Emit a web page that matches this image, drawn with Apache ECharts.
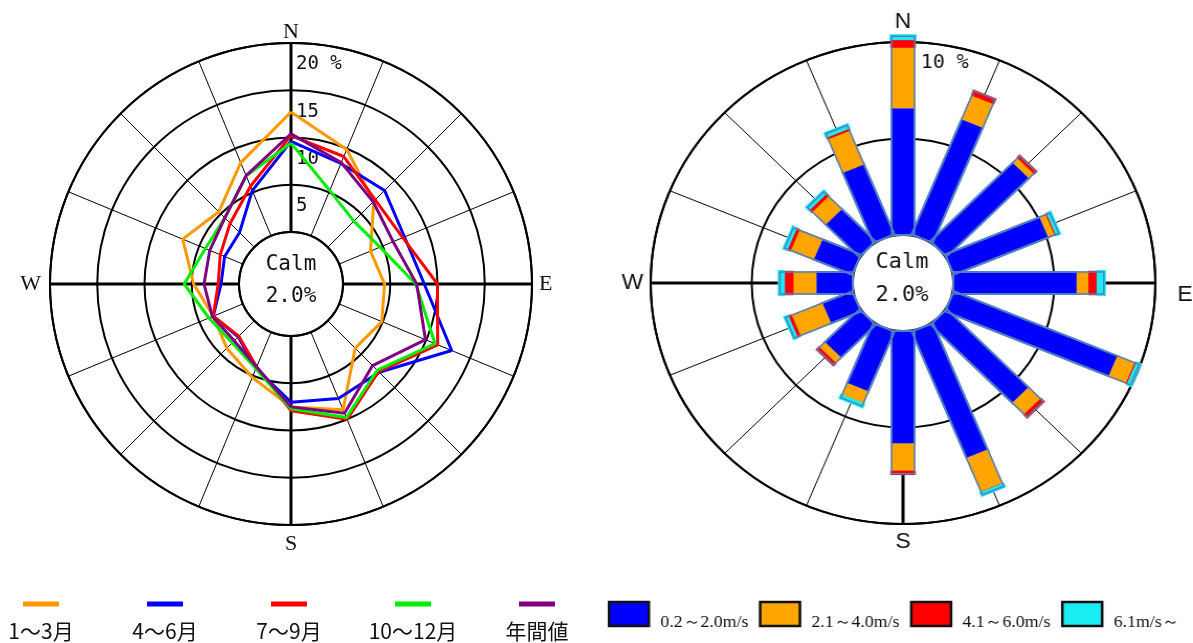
<!DOCTYPE html>
<html>
<head>
<meta charset="utf-8">
<script src="https://cdn.jsdelivr.net/npm/echarts@6/dist/echarts.min.js"></script>
<style>
  html, body { margin: 0; padding: 0; background: #fff; }
  #rose { position: absolute; left: 0; top: 0; width: 600px; height: 643px; }
  #speed { position: absolute; left: 600px; top: 0; width: 593px; height: 643px;
           transform: scaleX(1.047); transform-origin: 303px 283px; }
</style>
</head>
<body>
<div id="rose"></div>
<div id="speed"></div>
<script>
// 16 compass directions, clockwise from north
const directions = ['N', 'NNE', 'NE', 'ENE', 'E', 'ESE', 'SE', 'SSE', 'S', 'SSW', 'SW', 'WSW', 'W', 'WNW', 'NW', 'NNW'];
const compass = ['N', 'E', 'S', 'W'];

// Seasonal direction frequency (%)
const seasonNames = ['1～3月', '4～6月', '7～9月', '10～12月', '年間値'];
const janMar = [12.7, 9.9, 6.9, 3.6, 4.4, 4.9, 4.1, 8.9, 7.5, 5.2, 4.1, 3.4, 4.8, 6.9, 5.3, 8.4];
const aprJun = [9.6, 8.3, 8.5, 7.5, 8.6, 12.9, 7.7, 7.6, 7.0, 4.2, 2.4, 3.4, 1.9, 2.1, 2.2, 5.2];
const julSep = [10.2, 9.1, 7.1, 7.3, 10.0, 11.3, 7.6, 10.0, 7.9, 4.0, 2.3, 3.4, 2.2, 2.6, 3.6, 5.7];
const octDec = [9.4, 5.2, 3.9, 4.7, 7.7, 11.0, 7.4, 9.8, 7.7, 4.2, 3.3, 3.9, 5.8, 4.3, 4.4, 6.9];
const annual = [10.4, 8.4, 6.8, 6.2, 7.8, 9.9, 6.7, 9.3, 7.5, 4.0, 3.0, 3.5, 3.7, 3.8, 4.4, 6.9];
const roseTicks = ['', '5', '10', '15', '20 %'];

// Annual frequency (%) split by wind speed class
const speedNames = ['0.2～2.0m/s', '2.1～4.0m/s', '4.1～6.0m/s', '6.1m/s～'];
const speedLow = [6.6, 6.5, 5.8, 5.1, 6.15, 8.8, 5.77, 7.13, 5.87, 3.4, 2.45, 1.64, 1.84, 2.1, 2.4, 3.97];
const speedMid = [3.17, 1.35, 0.35, 0.35, 0.6, 0.95, 0.85, 1.9, 1.43, 0.7, 0.4, 1.66, 1.16, 1.25, 0.95, 1.9];
const speedHigh = [0.43, 0.2, 0.1, 0.1, 0.45, 0.1, 0.15, 0.05, 0.1, 0, 0.1, 0.2, 0.46, 0.2, 0.2, 0.15];
const speedTop = [0.1, 0, 0, 0.07, 0.25, 0.08, 0, 0.07, 0, 0.08, 0, 0.07, 0.15, 0.07, 0.08, 0.1];

const calmText = 'Calm\n2.0%';

const MONO = "'DejaVu Sans Mono','Liberation Mono',monospace";
const SERIF = "'Liberation Serif','DejaVu Serif',serif";
const SANS = "'Liberation Sans',Arial,sans-serif";
const JP = "'Noto Sans CJK JP',sans-serif";

const step = 360 / directions.length;

// ---------- seasonal rose (line polygons) ----------
const lineColors = ['#ff9900', '#0000ff', '#ff0000', '#00ee00', '#800080'];
const seasonal = [janMar, aprJun, julSep, octDec, annual];

function closedLoop(values) {
  const pts = values.map((v, i) => [v, i * step]);
  pts.push([values[0], 360]);
  return pts;
}

const legendRich = { t: { fontFamily: JP, fontSize: 21, color: '#111', width: 96, align: 'center', lineHeight: 26 } };
lineColors.forEach((c, i) => {
  legendRich['l' + i] = { width: 36, height: 5, backgroundColor: c, align: 'center', lineHeight: 28 };
});

// polar frame: rings, 16 thin spokes, 4 bold compass spokes with letters
function polarFrame(cfg) {
  const rich = {};
  compass.forEach((c, i) => {
    rich['c' + i] = { fontFamily: cfg.compassFont, fontSize: 22, color: '#111', padding: cfg.compassPad[i] };
  });
  return {
    polar: [{ center: cfg.center, radius: cfg.radius }, { center: cfg.center, radius: cfg.radius }],
    angleAxis: [
      {
        polarIndex: 0, type: 'value', min: 0, max: 360, interval: step, startAngle: 90, clockwise: true,
        axisLine: { lineStyle: { color: '#000', width: 2 } },
        axisTick: { show: false }, axisLabel: { show: false },
        splitLine: { lineStyle: { color: '#000', width: 1 } }
      },
      {
        polarIndex: 1, type: 'value', min: 0, max: 360, interval: 90, startAngle: 90, clockwise: true,
        axisLine: { show: false }, axisTick: { show: false },
        axisLabel: {
          margin: cfg.compassMargin, rich: rich,
          formatter: v => (v / 90 < 4 ? '{c' + (v / 90) + '|' + compass[v / 90] + '}' : '')
        },
        splitLine: { lineStyle: { color: '#000', width: 3 } }
      }
    ],
    radiusAxis: [
      {
        polarIndex: 0, type: 'value', min: 0, max: cfg.max, interval: cfg.interval,
        axisLine: { show: false }, axisTick: { show: false },
        axisLabel: {
          inside: true, margin: 6, align: 'left', verticalAlign: 'top', padding: cfg.tickPad,
          fontFamily: MONO, fontSize: 19, color: '#111',
          formatter: cfg.tickFormatter
        },
        splitLine: { lineStyle: { color: cfg.ringColors, width: 2 } }
      },
      { polarIndex: 1, type: 'value', min: 0, max: cfg.max, show: false }
    ]
  };
}

const roseFrame = polarFrame({
  center: [291, 284], radius: [52, 241], max: 20, interval: 5,
  tickFormatter: v => roseTicks[Math.round(v / 5)] || '', tickPad: [12, 0, 0, 11],
  compassFont: SERIF, compassMargin: 0,
  compassPad: [[0, 0, 0, 0], [0, 0, 0, 7], [8, 0, 0, 0], [0, 9, 0, 0]],
  ringColors: ['#000']
});

const roseChart = echarts.init(document.getElementById('rose'), null, { renderer: 'canvas' });
roseChart.setOption(Object.assign(roseFrame, {
  animation: false,
  graphic: [{
    type: 'text', x: 291, y: 281, z: 10,
    style: { text: calmText, align: 'center', verticalAlign: 'middle', fontFamily: MONO, fontSize: 21, lineHeight: 32, fill: '#111' }
  }],
  legend: {
    data: seasonNames, left: -12, top: 598, padding: 0, itemGap: 23,
    itemWidth: 0, itemHeight: 0, icon: 'rect', itemStyle: { opacity: 0 },
    formatter: name => '{l' + seasonNames.indexOf(name) + '|}\n{t|' + name + '}',
    textStyle: { rich: legendRich }
  },
  series: seasonal.map((vals, i) => ({
    name: seasonNames[i], type: 'line', coordinateSystem: 'polar', polarIndex: 0,
    data: closedLoop(vals), symbol: 'none', z: 3,
    lineStyle: { color: lineColors[i], width: 3 }, itemStyle: { color: lineColors[i] }
  }))
}));

// ---------- wind speed rose (radial bars) ----------
const speedColors = ['#0000ff', '#ffa500', '#ff0000', '#19ecf2'];
const OUTLINE = '#4f7fc4';
const HALF = 11;

function barPolygon(api, r0, r1, ang) {
  const a = api.coord([r0, ang]);
  const b = api.coord([r1, ang]);
  const dx = b[0] - a[0], dy = b[1] - a[1];
  const len = Math.hypot(dx, dy) || 1;
  const nx = -dy / len * HALF, ny = dx / len * HALF;
  return [[a[0] + nx, a[1] + ny], [b[0] + nx, b[1] + ny], [b[0] - nx, b[1] - ny], [a[0] - nx, a[1] - ny]];
}

function segmentRenderer(fill, stroke, lineWidth) {
  return function (params, api) {
    const ang = api.value(0), r0 = api.value(1), r1 = api.value(2);
    if (!(r1 > r0)) return null;
    return {
      type: 'polygon',
      shape: { points: barPolygon(api, r0, r1, ang) },
      style: { fill: fill, stroke: stroke, lineWidth: lineWidth, lineJoin: 'miter' }
    };
  };
}

// stacked segment bounds per direction
const classes = [speedLow, speedMid, speedHigh, speedTop];
const segments = classes.map((cls, k) => directions.map((d, i) => {
  let start = 0;
  for (let j = 0; j < k; j++) start += classes[j][i];
  return [i * step, start, start + cls[i]];
}));
const totals = directions.map((d, i) => [i * step, 0, classes.reduce((s, c) => s + c[i], 0)]);

const segStyle = [
  [speedColors[0], OUTLINE, 2],
  [speedColors[1], speedColors[1], 1.5],
  [speedColors[2], speedColors[2], 2.5],
  [speedColors[3], speedColors[3], 4]
];

const speedFrame = polarFrame({
  center: [303, 283], radius: [48, 241], max: 10, interval: 5,
  tickFormatter: v => (v === 10 ? '10 %' : ''), tickPad: [12, 0, 0, 23],
  compassFont: SANS, compassMargin: 7,
  compassPad: [[0, 0, 2, 0], [24, 0, 0, 14], [0, 0, 0, 0], [0, 0, 0, 0]],
  ringColors: ['rgba(0,0,0,0)', '#000', '#000']
});

const speedSeries = segments.map((data, k) => ({
  name: speedNames[k], type: 'custom', coordinateSystem: 'polar', polarIndex: 0,
  data: data, z: 3 + k, itemStyle: { color: speedColors[k] },
  encode: { angle: 0, radius: [1, 2] },
  renderItem: segmentRenderer(segStyle[k][0], segStyle[k][1], segStyle[k][2])
}));
speedSeries.push({
  name: 'outline', type: 'custom', coordinateSystem: 'polar', polarIndex: 0,
  data: totals, z: 8, silent: true, encode: { angle: 0, radius: [1, 2] },
  renderItem: segmentRenderer('none', OUTLINE, 1.5)
});

const speedChart = echarts.init(document.getElementById('speed'), null, { renderer: 'canvas' });
speedChart.setOption(Object.assign(speedFrame, {
  animation: false,
  graphic: [{
    type: 'text', x: 302, y: 279, z: 10,
    style: { text: calmText, align: 'center', verticalAlign: 'middle', fontFamily: MONO, fontSize: 21, lineHeight: 33, fill: '#111' }
  }],
  legend: {
    data: speedNames, left: 21, top: 597, padding: 0, itemGap: 10,
    icon: 'rect', itemWidth: 38, itemHeight: 24,
    itemStyle: { borderColor: '#111', borderWidth: 2.5 },
    formatter: name => '\n' + name,
    textStyle: { fontFamily: SERIF, fontSize: 17, lineHeight: 17, color: '#111', width: 84, padding: [0, 0, 0, 6] }
  },
  series: speedSeries
}));
</script>
</body>
</html>
